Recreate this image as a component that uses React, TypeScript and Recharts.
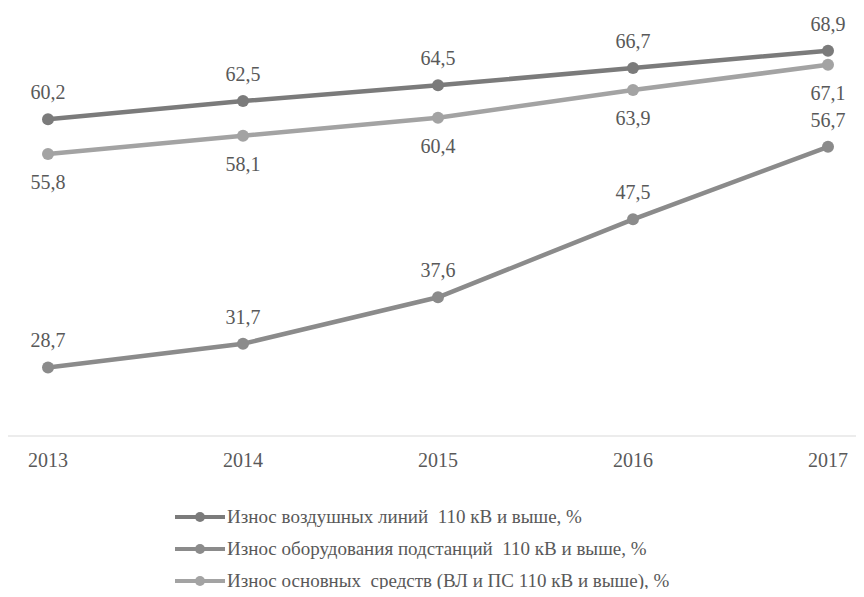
import React from 'react';
import { LineChart, Line, XAxis, YAxis, Legend, LabelList } from 'recharts';

// Износ электросетевого оборудования по годам, %
const years = ['2013', '2014', '2015', '2016', '2017'];
const overheadLines = [60.2, 62.5, 64.5, 66.7, 68.9];
const substations = [28.7, 31.7, 37.6, 47.5, 56.7];
const fixedAssets = [55.8, 58.1, 60.4, 63.9, 67.1];

const seriesNames = [
  'Износ воздушных линий  110 кВ и выше, %',
  'Износ оборудования подстанций  110 кВ и выше, %',
  'Износ основных  средств (ВЛ и ПС 110 кВ и выше), %',
];

const colors = ['#7b7b7b', '#8b8b8b', '#a3a3a3'];
const textColor = '#595959';
const font = '"Liberation Serif", "Times New Roman", serif';

const data = years.map((year, i) => ({
  year,
  lines: overheadLines[i],
  subs: substations[i],
  assets: fixedAssets[i],
}));

const fmt = (v: number) => v.toFixed(1).replace('.', ',');

// value label above or below the point
const makeLabel = (below: boolean) => (props: any) => {
  const { x, y, value } = props;
  return (
    <text
      x={x}
      y={below ? y + 35 : y - 20}
      textAnchor="middle"
      fontSize={20}
      fontFamily={font}
      fill={textColor}
    >
      {fmt(value)}
    </text>
  );
};

const YearTick = (props: any) => {
  const { x, y, payload } = props;
  return (
    <text x={x} y={y + 31} textAnchor="middle" fontSize={20} fontFamily={font} fill={textColor}>
      {payload.value}
    </text>
  );
};

const LegendRows = () => (
  <div style={{ height: 96, fontFamily: font, fontSize: 19, color: textColor }}>
    {seriesNames.map((name, i) => (
      <div key={name} style={{ height: 32, display: 'flex', alignItems: 'center', paddingLeft: 175 }}>
        <svg width={52} height={14} style={{ flex: 'none' }}>
          <line x1={0} y1={7} x2={50} y2={7} stroke={colors[i]} strokeWidth={4} />
          <circle cx={25} cy={7} r={5} fill={colors[i]} />
        </svg>
        <span style={{ whiteSpace: 'pre' }}>{name}</span>
      </div>
    ))}
  </div>
);

export default function App() {
  return (
    <div style={{ margin: '-8px 0 -8px -8px', width: 864, height: 597, background: '#fff', overflow: 'hidden' }}>
      <LineChart width={864} height={597} data={data} margin={{ top: 42, right: 0, left: 7, bottom: 35 }}>
        <XAxis
          dataKey="year"
          axisLine={{ stroke: '#d9d9d9', strokeWidth: 1 }}
          tickLine={false}
          tickSize={0}
          tickMargin={0}
          tick={<YearTick />}
          padding={{ left: 41, right: 36 }}
          interval={0}
        />
        <YAxis hide domain={[20, 70]} width={0} />
        <Legend
          verticalAlign="bottom"
          content={<LegendRows />}
          wrapperStyle={{ bottom: 0, left: 0, width: 864 }}
        />
        <Line dataKey="lines" name={seriesNames[0]} stroke={colors[0]} strokeWidth={4.5}
          dot={{ r: 6, fill: colors[0], stroke: 'none' }} isAnimationActive={false}>
          <LabelList dataKey="lines" content={makeLabel(false)} />
        </Line>
        <Line dataKey="subs" name={seriesNames[1]} stroke={colors[1]} strokeWidth={4.5}
          dot={{ r: 6, fill: colors[1], stroke: 'none' }} isAnimationActive={false}>
          <LabelList dataKey="subs" content={makeLabel(false)} />
        </Line>
        <Line dataKey="assets" name={seriesNames[2]} stroke={colors[2]} strokeWidth={4.5}
          dot={{ r: 6, fill: colors[2], stroke: 'none' }} isAnimationActive={false}>
          <LabelList dataKey="assets" content={makeLabel(true)} />
        </Line>
      </LineChart>
    </div>
  );
}
